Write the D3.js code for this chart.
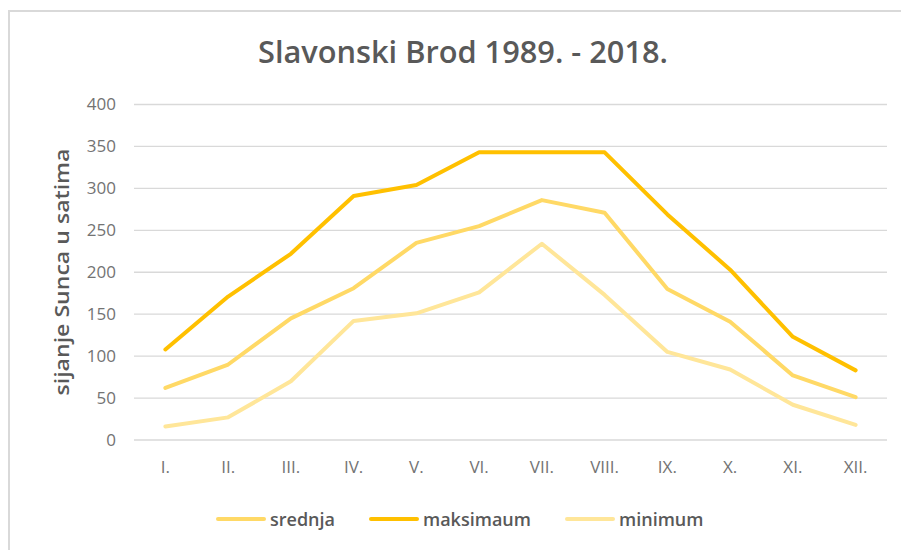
<!DOCTYPE html>
<html><head><meta charset="utf-8">
<script src="https://cdn.jsdelivr.net/npm/d3@7"></script>
<style>body{margin:0;background:#fff}svg{display:block}</style>
</head><body><svg id="c" width="901" height="550"></svg>
<script>
const months = ["I.","II.","III.","IV.","V.","VI.","VII.","VIII.","IX.","X.","XI.","XII."];
const srednja = [62, 90, 145, 181, 235, 255, 286, 271, 180, 141, 77, 51];
const maksimaum = [108, 171, 222, 291, 304, 343, 343, 343, 269, 203, 123, 83];
const minimum = [16, 27, 70, 142, 151, 176, 234, 173, 105, 84, 42, 18];
const yTicks = [0, 50, 100, 150, 200, 250, 300, 350, 400];
const seriesNames = ["srednja", "maksimaum", "minimum"];
const colors = {srednja: "#FFD966", maksimaum: "#FFC000", minimum: "#FFE699"};
const series = [
  {name: "minimum", values: minimum},
  {name: "srednja", values: srednja},
  {name: "maksimaum", values: maksimaum}
];

const svg = d3.select("#c");
const font = "'Open Sans', 'Noto Sans', sans-serif";

// chart border
svg.append("path").attr("d", "M9,550 V11 H901").attr("fill", "none")
  .attr("stroke", "#d9d9d9").attr("stroke-width", 2);

const x = d3.scaleBand().domain(months).range([134, 887]);
const y = d3.scaleLinear().domain([0, 400]).range([440, 104.5]);

// gridlines
svg.append("g").selectAll("line").data(yTicks).join("line")
  .attr("x1", 134).attr("x2", 887)
  .attr("y1", d => y(d)).attr("y2", d => y(d))
  .attr("stroke", "#d9d9d9").attr("stroke-width", 1.3);

// y axis
const ya = svg.append("g").attr("transform", "translate(116,0)")
  .call(d3.axisLeft(y).tickValues(yTicks).tickSize(0).tickPadding(0));
ya.select(".domain").remove();
ya.selectAll("text").attr("font-family", font).attr("font-size", 17).attr("fill", "#737373");

// x axis
const xa = svg.append("g").attr("transform", "translate(0,461)")
  .call(d3.axisBottom(x).tickSize(0).tickPadding(0));
xa.select(".domain").remove();
xa.selectAll("text").attr("font-family", font).attr("font-size", 17).attr("fill", "#737373");

// lines
const line = d3.line().x((d, i) => x(months[i]) + x.bandwidth() / 2).y(d => y(d));
svg.append("g").selectAll("path").data(series).join("path")
  .attr("d", d => line(d.values)).attr("fill", "none")
  .attr("stroke", d => colors[d.name]).attr("stroke-width", 4)
  .attr("stroke-linejoin", "round").attr("stroke-linecap", "round");

// title
svg.append("text").attr("x", 463).attr("y", 63).attr("text-anchor", "middle")
  .attr("font-family", font).attr("font-size", 30).attr("font-weight", 600)
  .attr("fill", "#595959").attr("textLength", 410).attr("lengthAdjust", "spacingAndGlyphs")
  .text("Slavonski Brod 1989. - 2018.");

// y axis title
svg.append("text").attr("transform", "translate(69,272) rotate(-90)")
  .attr("text-anchor", "middle").attr("font-family", font).attr("font-size", 20)
  .attr("font-weight", 600).attr("fill", "#595959")
  .attr("textLength", 247).attr("lengthAdjust", "spacingAndGlyphs")
  .text("sijanje Sunca u satima");

// legend
const legendX = [216, 369, 565];
const lg = svg.append("g").selectAll("g").data(seriesNames).join("g")
  .attr("transform", (d, i) => `translate(${legendX[i]},519)`);
lg.append("line").attr("x1", 2).attr("x2", 48).attr("y1", 0).attr("y2", 0)
  .attr("stroke", d => colors[d]).attr("stroke-width", 4).attr("stroke-linecap", "round");
lg.append("text").attr("x", 54).attr("y", 6.5).attr("font-family", font).attr("font-size", 18)
  .attr("font-weight", 600).attr("fill", "#595959").text(d => d);
</script></body></html>
